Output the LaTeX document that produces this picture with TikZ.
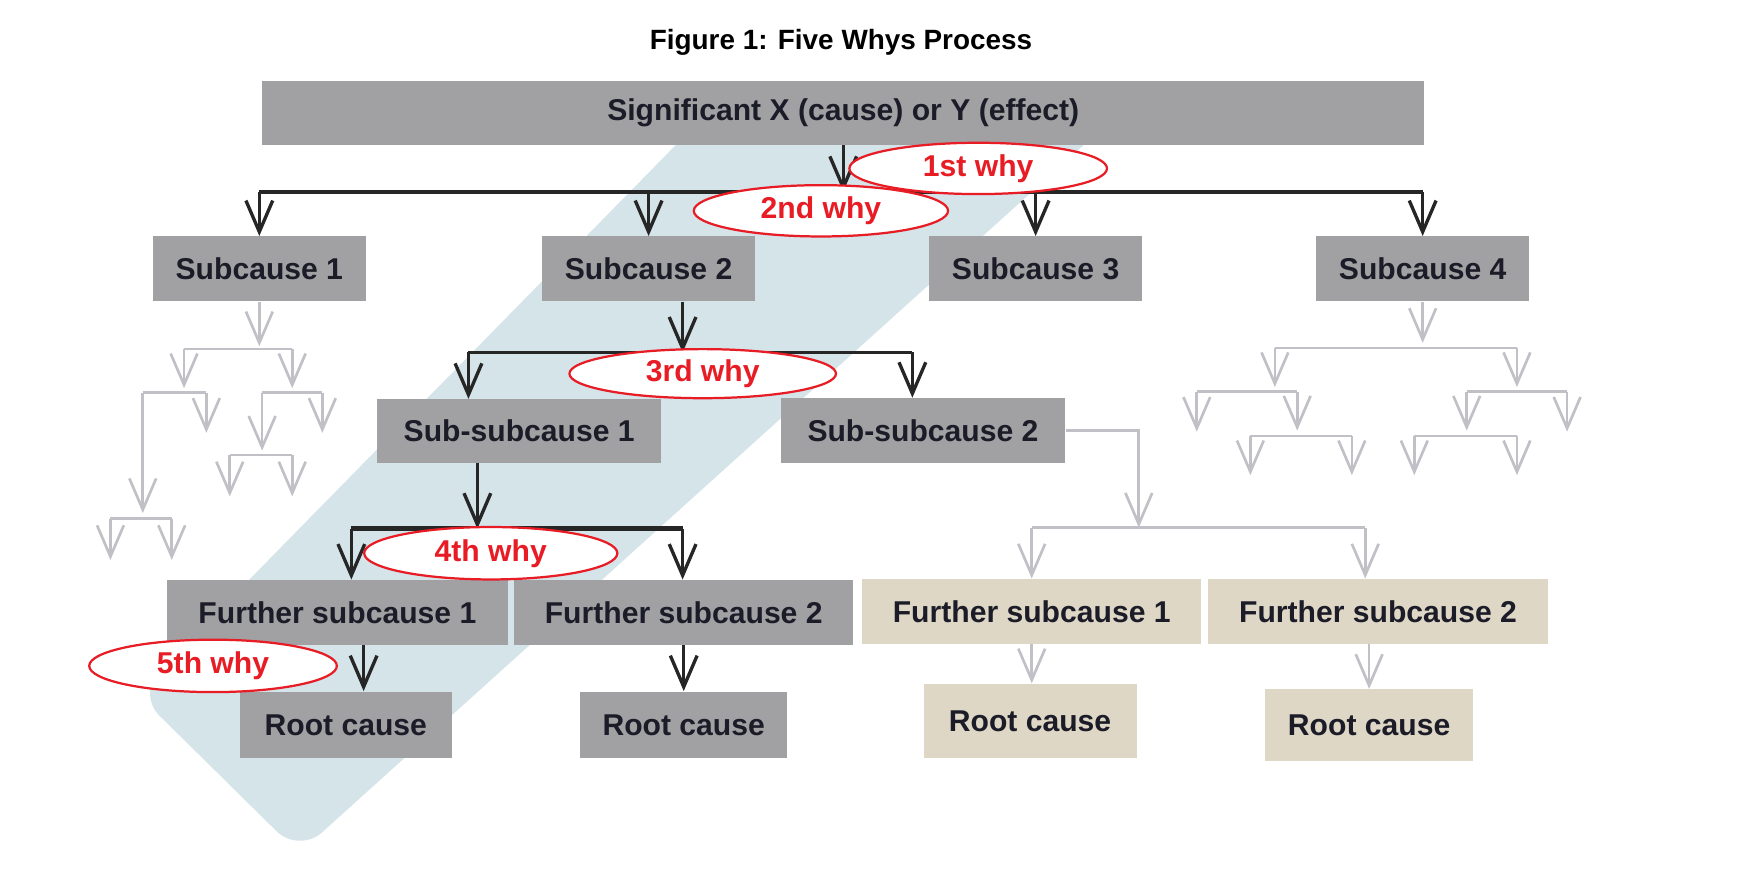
\documentclass[tikz,border=0pt]{standalone}
\usepackage{fontspec}
\setmainfont{Liberation Sans}
\usetikzlibrary{arrows.meta,shapes.geometric}
\definecolor{boxgray}{RGB}{161,161,164}
\definecolor{beige}{RGB}{222,215,198}
\definecolor{bandblue}{RGB}{212,228,233}
\definecolor{lgray}{RGB}{192,192,198}
\definecolor{txt}{RGB}{28,28,40}
\definecolor{whyred}{RGB}{232,28,36}
\begin{document}
\begin{tikzpicture}[x=0.5pt,y=-0.5pt,
  box/.style={fill=boxgray, inner sep=0pt, font=\bfseries\fontsize{13.5}{16}\selectfont, text=txt},
  bbox/.style={box, fill=beige},
  why/.style={ellipse, draw=whyred, line width=1pt, fill=white, inner sep=0pt, text=whyred, font=\bfseries\fontsize{13.5}{16}\selectfont},
  conn/.style={line width=1.5pt, draw=black!85, -{Straight Barb[length=14pt,width=12pt]}},
  gconn/.style={line width=1.2pt, draw=lgray, -{Straight Barb[length=14pt,width=12pt]}},
  bar/.style={line width=1.5pt, draw=black!85},
  gbar/.style={line width=1.2pt, draw=lgray},
]
\useasboundingbox (0,0) rectangle (1560,782);
% band
\fill[bandblue, rounded corners=14pt] (655,80) -- (1027,80) -- (268,765) -- (123,622) -- cycle;
% title
\node[font=\bfseries\fontsize{12.5}{15}\selectfont] (title) at (754,38) {Figure 1: Five Whys Process};
% boxes
\node[box, minimum width=521pt, minimum height=28.5pt] (top) at (756,101.5) {Significant X (cause) or Y (effect)};
\node[box, minimum width=95.5pt, minimum height=29pt] (s1) at (232.5,241) {Subcause 1};
\node[box, minimum width=95.5pt, minimum height=29pt] (s2) at (581.5,241) {Subcause 2};
\node[box, minimum width=95.5pt, minimum height=29pt] (s3) at (928.5,241) {Subcause 3};
\node[box, minimum width=95.5pt, minimum height=29pt] (s4) at (1275.5,241) {Subcause 4};
\node[box, minimum width=127.5pt, minimum height=28.5pt] (ss1) at (465.5,386.5) {Sub-subcause 1};
\node[box, minimum width=127.5pt, minimum height=29pt] (ss2) at (827.5,386) {Sub-subcause 2};
\node[box, minimum width=152.5pt, minimum height=29pt] (f1) at (302.5,549) {Further subcause 1};
\node[box, minimum width=152pt, minimum height=29pt] (f2) at (613,549) {Further subcause 2};
\node[bbox, minimum width=152pt, minimum height=29pt] (f3) at (925,548) {Further subcause 1};
\node[bbox, minimum width=152.5pt, minimum height=29pt] (f4) at (1235.5,548) {Further subcause 2};
\node[box, minimum width=95pt, minimum height=30pt] (r1) at (310,650) {Root cause};
\node[box, minimum width=93pt, minimum height=30pt] (r2) at (613,650) {Root cause};
\node[bbox, minimum width=95.5pt, minimum height=33.5pt] (r3) at (923.5,646.5) {Root cause};
\node[bbox, minimum width=93.5pt, minimum height=32pt] (r4) at (1227.5,650) {Root cause};
% gray decorative trees (left)
\draw[gconn] (s1.south) -- ++(0,40);
\draw[gbar] (165,313) -- (262,313);
\draw[gconn] (165,313) -- (165,348);
\draw[gconn] (262,313) -- (262,348);
\draw[gbar] (128,352) -- (185,352);
\draw[gconn] (185,352) -- (185,388);
\draw[gconn] (128,352) -- (128,460);
\draw[gbar] (99,465) -- (154,465);
\draw[gconn] (99,465) -- (99,502);
\draw[gconn] (154,465) -- (154,502);
\draw[gbar] (235,352) -- (289,352);
\draw[gconn] (289,352) -- (289,388);
\draw[gconn] (235,352) -- (235,404);
\draw[gbar] (206,408) -- (262,408);
\draw[gconn] (206,408) -- (206,445);
\draw[gconn] (262,408) -- (262,445);
% gray decorative trees (right)
\draw[gconn] (s4.south) -- ++(0,37);
\draw[gbar] (1143,312) -- (1360,312);
\draw[gconn] (1143,312) -- (1143,347);
\draw[gconn] (1360,312) -- (1360,347);
\draw[gbar] (1073,351) -- (1163,351);
\draw[gconn] (1073,351) -- (1073,387);
\draw[gconn] (1163,351) -- (1163,386);
\draw[gbar] (1121,391) -- (1212,391);
\draw[gconn] (1121,391) -- (1121,426);
\draw[gconn] (1212,391) -- (1212,426);
\draw[gbar] (1315,351) -- (1405,351);
\draw[gconn] (1405,351) -- (1405,387);
\draw[gconn] (1315,351) -- (1315,386);
\draw[gbar] (1268,391) -- (1360,391);
\draw[gconn] (1268,391) -- (1268,426);
\draw[gconn] (1360,391) -- (1360,426);
% black connectors
\coordinate (b1) at (756,172);
\draw[conn] (top.south) -- (b1);
\draw[bar] (s1.north |- b1) -- (s4.north |- b1);
\foreach \n in {s1,s2,s3,s4} \draw[conn] (\n.north |- b1) -- (\n.north);
\coordinate (b2) at (612,316);
\coordinate (b2l) at (420,316);
\coordinate (b2r) at (818,316);
\draw[conn] (s2.south -| b2) -- (b2);
\draw[bar] (b2l) -- (b2r);
\draw[conn] (b2l) -- (b2l |- ss1.north);
\draw[conn] (b2r) -- (b2r |- ss2.north);
\coordinate (b3) at (428,474);
\coordinate (b3l) at (315,474);
\coordinate (b3r) at (612,474);
\draw[conn] (ss1.south -| b3) -- (b3);
\draw[bar, line width=2pt] (b3l) -- (b3r);
\draw[conn] (b3l) -- (b3l |- f1.north);
\draw[conn] (b3r) -- (b3r |- f2.north);
\coordinate (k5) at (326,600);
\draw[conn] (f1.south -| k5) -- (r1.north -| k5);
\draw[conn] (f2.south) -- (r2.north);
% gray connectors
\coordinate (g1) at (1021,386);
\coordinate (g2) at (1021,473);
\coordinate (g2l) at (925,473);
\coordinate (g2r) at (1224,473);
\draw[gconn] (ss2.east) -- (g1) -- (g2);
\draw[gbar] (g2l) -- (g2r);
\draw[gconn] (g2l) -- (g2l |- f3.north);
\draw[gconn] (g2r) -- (g2r |- f4.north);
\draw[gconn] (f3.south) -- (f3.south |- r3.north);
\draw[gconn] (f4.south -| r4.north) -- (r4.north);
% why ellipses
\node[why, minimum width=115.5pt, minimum height=23pt] (w1) at (877,151) {1st why};
\node[why, minimum width=114pt, minimum height=23pt] (w2) at (736,189) {2nd why};
\node[why, minimum width=119.5pt, minimum height=22pt] (w3) at (630,335) {3rd why};
\node[why, minimum width=113.5pt, minimum height=23.5pt] (w4) at (440,496) {4th why};
\node[why, minimum width=111pt, minimum height=23.5pt] (w5) at (191,597) {5th why};
\end{tikzpicture}
\end{document}
